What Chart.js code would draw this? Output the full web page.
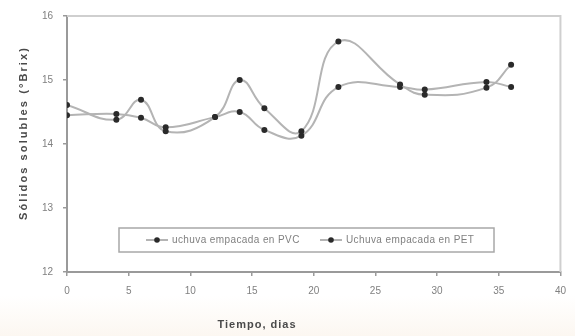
<!DOCTYPE html>
<html>
<head>
<meta charset="utf-8">
<script src="https://cdn.jsdelivr.net/npm/chart.js@4.4.1/dist/chart.umd.min.js"></script>
<style>
  html, body { margin: 0; padding: 0; }
  body { width: 575px; height: 336px; background: linear-gradient(#ffffff 0%, #ffffff 88%, #fcf7f1 100%); }
  #wrap { position: relative; width: 575px; height: 336px; }
</style>
</head>
<body>
<div id="wrap"><canvas id="myChart" width="575" height="336"></canvas></div>
<script>
// storage days
const days = [0, 4, 6, 8, 12, 14, 16, 19, 22, 27, 29, 34, 36];
// soluble solids, °Brix
const pvcValues = [14.61, 14.38, 14.69, 14.2, 14.42, 15.0, 14.56, 14.2, 15.6, 14.93, 14.77, 14.88, 15.24];
const petValues = [14.45, 14.47, 14.41, 14.26, 14.42, 14.5, 14.22, 14.13, 14.89, 14.89, 14.85, 14.97, 14.89];
const seriesLabels = ["uchuva empacada en PVC", "Uchuva empacada en PET"];
const xTicks = [0, 5, 10, 15, 20, 25, 30, 35, 40];
const yTicks = [12, 13, 14, 15, 16];
const xTitle = "Tiempo, dias";
const yTitle = "Sólidos solubles (°Brix)";

const lineColor = "#b4b4b4";
const pointColor = "#2a2a2a";
const axisColor = "#9a9a9a";
const textColor = "#808080";

const toPoints = (vals) => days.map((d, i) => ({ x: d, y: vals[i] }));

// frame, axis titles and the boxed legend
const extras = {
  id: "extras",
  beforeDatasetsDraw(chart) {
    const { ctx, chartArea: a } = chart;
    ctx.save();
    ctx.strokeStyle = "#cfcfcf";
    ctx.lineWidth = 2;
    ctx.beginPath();
    ctx.moveTo(a.left, a.top);
    ctx.lineTo(a.right, a.top);
    ctx.lineTo(a.right, a.bottom);
    ctx.stroke();
    ctx.restore();
  },
  afterDraw(chart) {
    const { ctx } = chart;
    ctx.save();
    ctx.fillStyle = "#4a4a4a";
    ctx.textAlign = "center";
    ctx.textBaseline = "middle";
    ctx.letterSpacing = "1px";
    ctx.font = "bold 11px 'Liberation Sans', Arial, sans-serif";
    ctx.fillText(xTitle, 257, 325);

    ctx.translate(24, 133);
    ctx.rotate(-Math.PI / 2);
    ctx.letterSpacing = "2.1px";
    ctx.fillText(yTitle, 0, 0);
    ctx.restore();

    // legend
    ctx.save();
    ctx.strokeStyle = "#a8a8a8";
    ctx.lineWidth = 1.5;
    ctx.fillStyle = "#ffffff";
    ctx.fillRect(119, 228, 375, 24);
    ctx.strokeRect(119, 228, 375, 24);
    const items = [{ x: 146 }, { x: 320 }];
    ctx.font = "10px 'Liberation Sans', Arial, sans-serif";
    ctx.letterSpacing = "0.4px";
    ctx.textBaseline = "middle";
    chart.data.datasets.forEach((ds, i) => {
      const x = items[i].x, y = 240;
      ctx.strokeStyle = ds.borderColor;
      ctx.lineWidth = 2;
      ctx.beginPath();
      ctx.moveTo(x, y);
      ctx.lineTo(x + 22, y);
      ctx.stroke();
      ctx.fillStyle = ds.pointBackgroundColor;
      ctx.beginPath();
      ctx.arc(x + 11, y, 2.8, 0, Math.PI * 2);
      ctx.fill();
      ctx.fillStyle = textColor;
      ctx.textAlign = "left";
      ctx.fillText(ds.label, x + 26, y);
    });
    ctx.restore();
  }
};

new Chart(document.getElementById("myChart"), {
  type: "line",
  data: {
    datasets: [
      {
        label: seriesLabels[0],
        data: toPoints(pvcValues),
        borderColor: lineColor,
        borderWidth: 2,
        tension: 0.45,
        pointRadius: 3,
        pointBackgroundColor: pointColor,
        pointBorderColor: pointColor,
        pointBorderWidth: 0,
      },
      {
        label: seriesLabels[1],
        data: toPoints(petValues),
        borderColor: lineColor,
        borderWidth: 2,
        tension: 0.45,
        pointRadius: 3,
        pointBackgroundColor: pointColor,
        pointBorderColor: pointColor,
        pointBorderWidth: 0,
      },
    ],
  },
  options: {
    responsive: false,
    animation: false,
    layout: { padding: { top: 15, right: 10, left: 0, bottom: 0 } },
    plugins: { legend: { display: false }, tooltip: { enabled: false } },
    scales: {
      x: {
        type: "linear",
        min: 0,
        max: 40,
        afterFit: (s) => { s.height = 64; },
        afterBuildTicks: (s) => { s.ticks = xTicks.map((v) => ({ value: v })); },
        grid: { drawOnChartArea: false, drawTicks: true, tickLength: 4, color: axisColor, lineWidth: 1.5 },
        border: { color: axisColor, width: 2 },
        ticks: { color: textColor, padding: 9, font: { size: 10, family: "'Liberation Sans', Arial, sans-serif" } },
      },
      y: {
        min: 12,
        max: 16,
        afterFit: (s) => { s.width = 67; },
        afterBuildTicks: (s) => { s.ticks = yTicks.map((v) => ({ value: v })); },
        grid: { drawOnChartArea: false, drawTicks: true, tickLength: 4, color: axisColor, lineWidth: 1.5 },
        border: { color: axisColor, width: 2 },
        ticks: { color: textColor, padding: 10, font: { size: 10, family: "'Liberation Sans', Arial, sans-serif" } },
      },
    },
  },
  plugins: [extras],
});
</script>
</body>
</html>
